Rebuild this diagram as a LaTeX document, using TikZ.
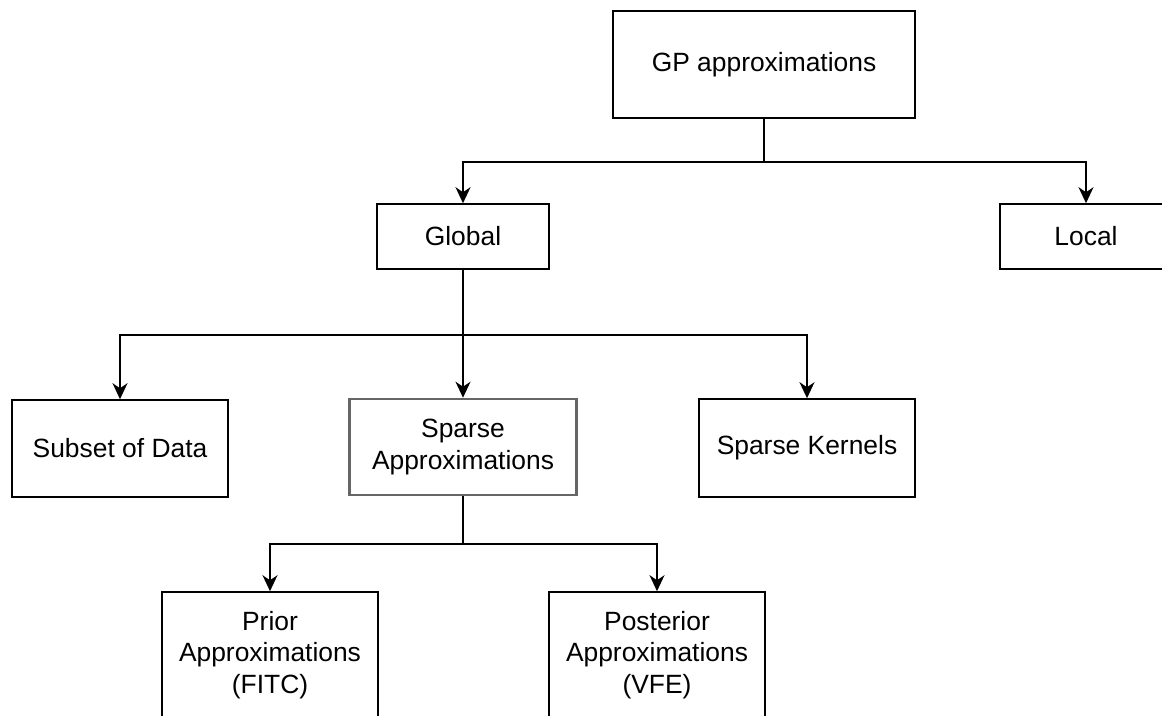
\documentclass[tikz,border=0pt]{standalone}
\usepackage{fontspec}
\setmainfont{Liberation Sans}
\usetikzlibrary{arrows.meta, positioning}
\definecolor{boxgray}{HTML}{666666}
\tikzset{
	boxnode/.style={
			shape=rectangle,
			draw=black,
			line width=1.6pt,
			fill=white,
			align=center,
			inner sep=0pt,
			font=\fontsize{26.4}{31.7}\selectfont
		},
	sparsenode/.style={
			boxnode,
			draw=boxgray,
			line width=2.6pt
		},
	edgeline/.style={
			draw=black,
			line width=1.6pt
		},
	edgearrow/.style={
			edgeline,
			-{Stealth[length=16pt,width=15pt,inset=5pt]}
		}
}

\begin{document}
\begin{tikzpicture}[x=1pt, y=-1pt]

  \useasboundingbox (0,0) rectangle (1162,715);
  \clip (0,0) rectangle (1162,715);

  \node[boxnode, minimum width=302pt, minimum height=107pt] (gp) at (764,64.5) {GP approximations};

  \node[boxnode, minimum width=172pt, minimum height=65pt] (global) at (463,236.5) {Global};
  \node[boxnode, minimum width=172pt, minimum height=65pt] (local) at (1086,236.5) {Local};

  \node[boxnode, minimum width=216pt, minimum height=97pt] (subset) at (120,448.5) {Subset of Data};
  \node[sparsenode, minimum width=227pt, minimum height=96pt] (sparse) at (463,447) {Sparse\\Approximations};
  \node[boxnode, minimum width=216pt, minimum height=98pt] (kernels) at (807,448) {Sparse Kernels};

  \node[boxnode, minimum width=216pt, minimum height=126pt] (prior) at (270,655) {Prior\\Approximations\\(FITC)};
  \node[boxnode, minimum width=216pt, minimum height=126pt] (posterior) at (657,655) {Posterior\\Approximations\\(VFE)};

  \coordinate (gpsplit) at (764,162);
  \coordinate (globalsplit) at (463,335);
  \coordinate (sparsesplit) at (463,544);

  \draw[edgeline] (gp.south) -- (gpsplit);
  \draw[edgearrow] (gpsplit) -| (global.north);
  \draw[edgearrow] (gpsplit) -| (local.north);

  \draw[edgearrow] (global.south) -- (sparse.north);
  \draw[edgearrow] (globalsplit) -| (subset.north);
  \draw[edgearrow] (globalsplit) -| (kernels.north);

  \draw[edgeline] (sparse.south) -- (sparsesplit);
  \draw[edgearrow] (sparsesplit) -| (prior.north);
  \draw[edgearrow] (sparsesplit) -| (posterior.north);

\end{tikzpicture}
\end{document}
